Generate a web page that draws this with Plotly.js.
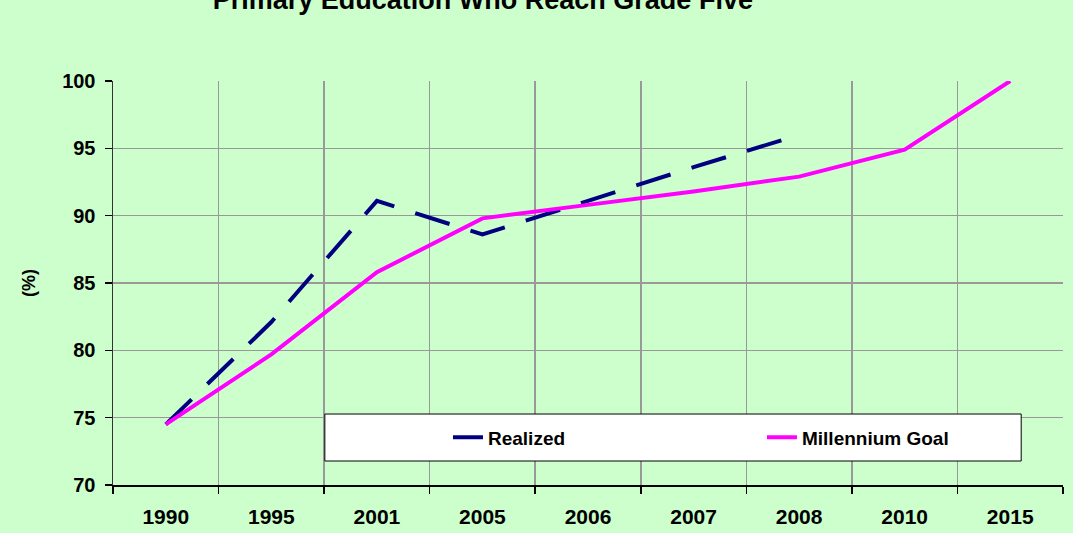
<!DOCTYPE html>
<html>
<head>
<meta charset="utf-8">
<script src="https://cdn.plot.ly/plotly-3.0.1.min.js"></script>
<style>html,body{margin:0;padding:0;background:#CCFFCC;}#chart{width:1073px;height:533px;}</style>
</head>
<body>
<div id="chart"></div>
<script>
const years = ["1990", "1995", "2001", "2005", "2006", "2007", "2008", "2010", "2015"];
const realizedYears = ["1990", "1995", "2001", "2005", "2006", "2007", "2008"];
const realized = [74.5, 82.1, 91.1, 88.6, 91.1, 93.6, 96.0];
const goal = [74.5, 79.7, 85.8, 89.8, 90.8, 91.8, 92.9, 94.9, 100];
const yTicks = [70, 75, 80, 85, 90, 95, 100];

const FONT = "Arial, 'Liberation Sans', sans-serif";

const traces = [
  {
    x: realizedYears, y: realized, type: "scatter", mode: "lines", name: "Realized",
    line: {color: "#000080", width: 4, dash: "36px,22px"}
  },
  {
    x: years, y: goal, type: "scatter", mode: "lines", name: "Millennium Goal",
    line: {color: "#FF00FF", width: 4}
  }
];

const layout = {
  width: 1073, height: 533,
  margin: {l: 113, r: 10, t: 81, b: 48, pad: 0, autoexpand: false},
  paper_bgcolor: "#CCFFCC",
  plot_bgcolor: "#CCFFCC",
  font: {family: FONT, color: "#000", size: 20},
  title: {
    text: "<b>Primary Education Who Reach Grade Five</b>",
    font: {family: FONT, size: 27, color: "#000"},
    x: 0.45, xanchor: "center", xref: "container",
    y: 1, yanchor: "middle", yref: "container"
  },
  xaxis: {
    type: "category", categoryarray: years, categoryorder: "array",
    range: [-0.5, years.length - 0.5],
    tickson: "boundaries", ticks: "outside", ticklen: 7, tickcolor: "#000", tickwidth: 1.5,
    ticklabelstandoff: 12,
    showgrid: true, gridcolor: "#999999", gridwidth: 1.5,
    showline: true, linecolor: "#000", linewidth: 1.5,
    tickfont: {family: FONT, size: 21, color: "#000", weight: "bold"},
    fixedrange: true
  },
  yaxis: {
    range: [70, 100], tickvals: yTicks, ticktext: yTicks.map(String),
    ticks: "outside", ticklen: 7, tickcolor: "#000", tickwidth: 1.5,
    ticklabelstandoff: 5,
    showgrid: true, gridcolor: "#999999", gridwidth: 1.5,
    showline: true, linecolor: "#333", linewidth: 1.5, zeroline: false,
    tickfont: {family: FONT, size: 20, color: "#000", weight: "bold"},
    title: {text: "<b>(%)</b>", font: {family: FONT, size: 18, color: "#000"}, standoff: 22},
    fixedrange: true
  },
  shapes: [
    {type: "rect", xref: "paper", yref: "paper", layer: "above",
     x0: 0.223, x1: 0.956, y0: 0.0594, y1: 0.1757,
     fillcolor: "#FFFFFF", line: {color: "#000", width: 1}}
  ],
  showlegend: true,
  legend: {
    orientation: "h", x: 0.3526, xanchor: "left", y: 0.1176, yanchor: "middle",
    bgcolor: "rgba(0,0,0,0)", borderwidth: 0,
    entrywidth: 269, entrywidthmode: "pixels",
    font: {family: FONT, size: 19, color: "#000", weight: "bold"}
  }
};

Plotly.newPlot("chart", traces, layout, {displayModeBar: false, staticPlot: true});
</script>
</body>
</html>
